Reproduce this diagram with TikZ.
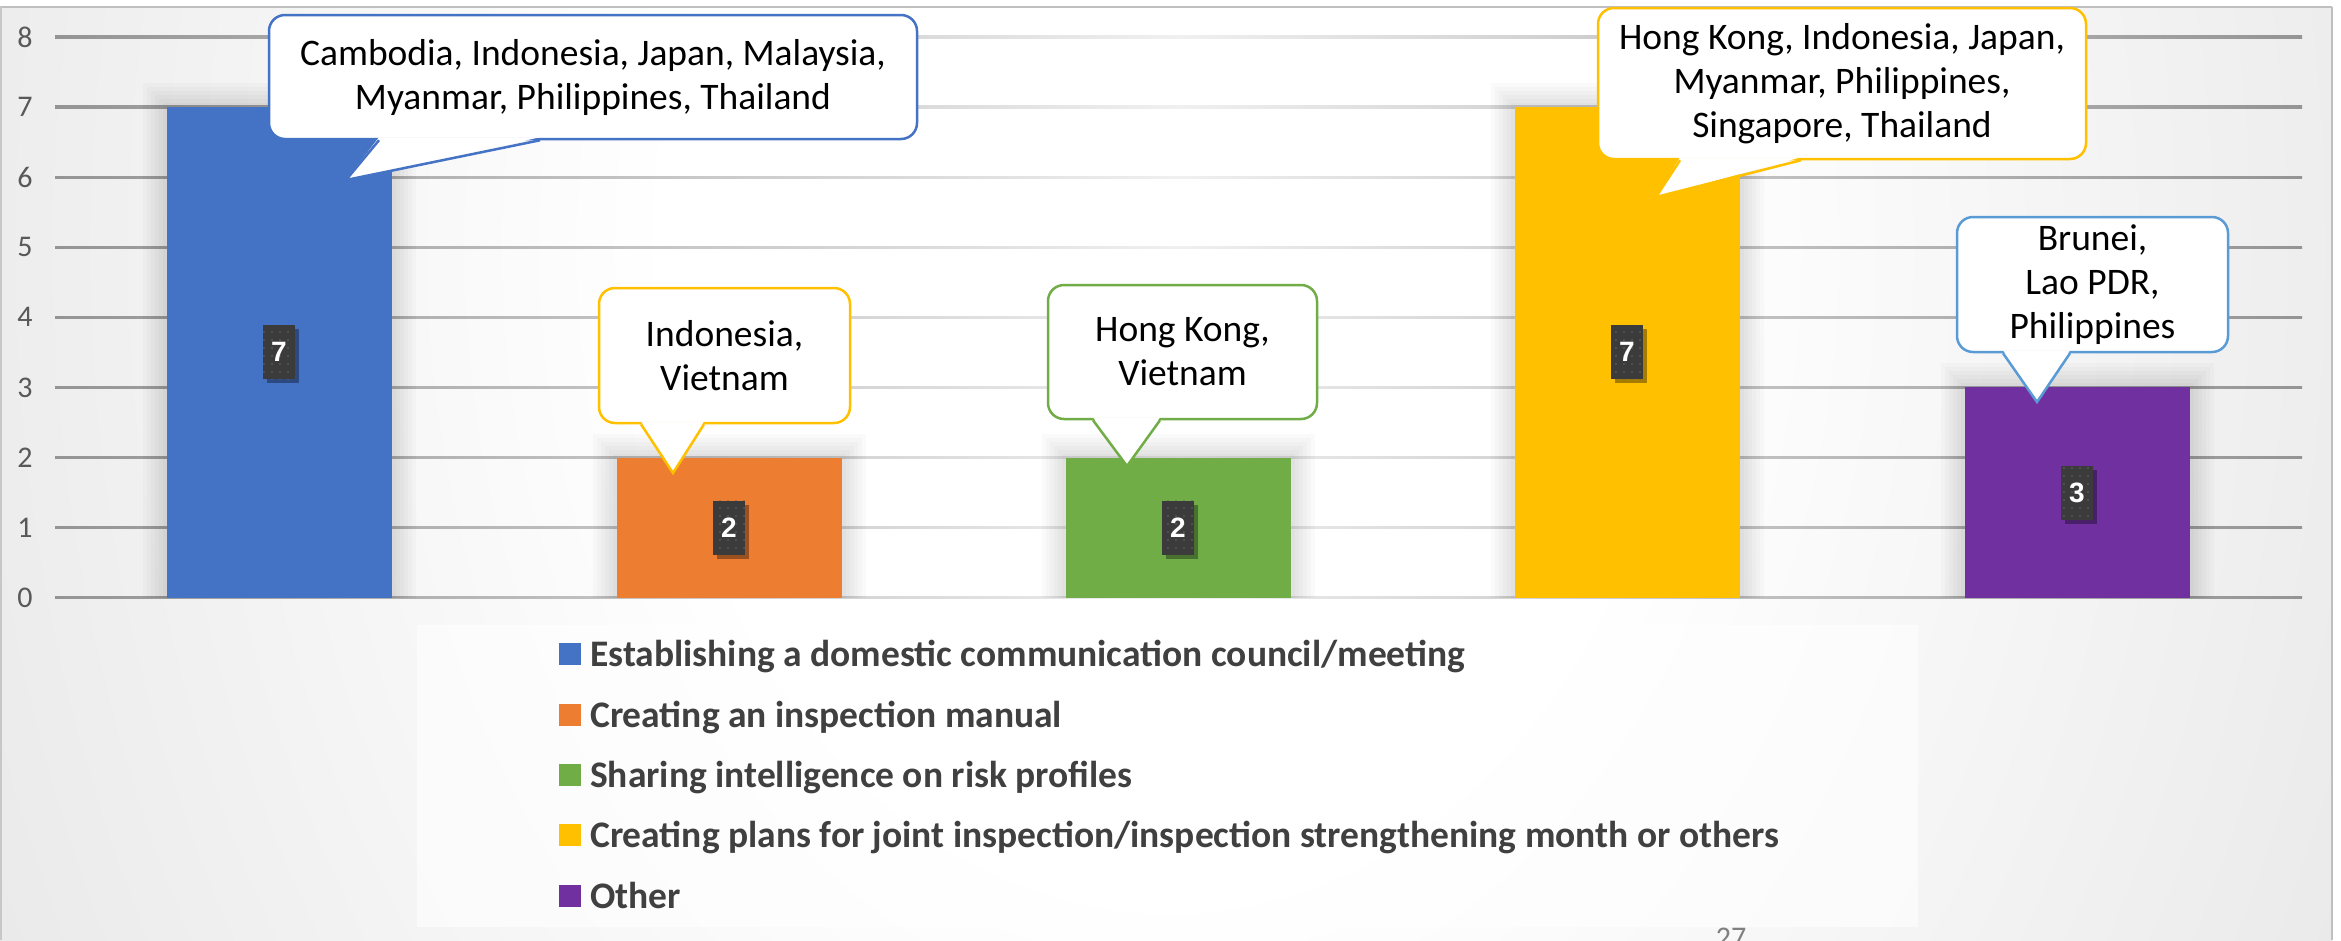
\documentclass[tikz,border=0pt]{standalone}
\usepackage{fontspec}
\setmainfont{Carlito}
\newfontfamily\lblfamily{Liberation Sans}
\usetikzlibrary{shadows,patterns.meta,calc}
\definecolor{cblue}{HTML}{4472C4}
\definecolor{corange}{HTML}{ED7D31}
\definecolor{cgreen}{HTML}{70AD47}
\definecolor{cyellow}{HTML}{FFC000}
\definecolor{cpurple}{HTML}{7030A0}
\definecolor{clblue}{HTML}{5B9BD5}
\definecolor{lblbg}{HTML}{3B3B3B}
\definecolor{legtext}{HTML}{404040}
\definecolor{axtext}{HTML}{595959}
\pgfdeclareradialshading{bgshade}{\pgfpoint{0bp}{0bp}}{color(0bp)=(white); color(10bp)=(white); color(31bp)=(black!11); color(46bp)=(black!22); color(71bp)=(black!27)}
\begin{document}
\begin{tikzpicture}[x=1pt,y=-1pt,
  axlbl/.style={text=axtext, font=\fontsize{30}{30}\selectfont, inner sep=0pt},
  lbl/.style={fill=lblbg, text=white, font=\lblfamily\bfseries\fontsize{28}{28}\selectfont,
    minimum width=32pt, minimum height=54pt, inner sep=0pt,
    drop shadow={shadow xshift=4pt, shadow yshift=-4pt, opacity=0.35, fill=black},
    postaction={pattern={Dots[distance=8pt, radius=0.9pt]}, pattern color=black!40!lblbg!70!white}},
  callout/.style={draw=#1, line width=2.5pt, fill=white, rounded corners=16pt, align=center,
    font=\fontsize{37.5}{44}\selectfont, inner sep=0pt, text=black},
  tail/.style={draw=#1, line width=2.5pt, line join=miter},
  legtxt/.style={text=legtext, font=\bfseries\fontsize{37.5}{37.5}\selectfont, inner sep=0pt, anchor=base west},
  legsq/.style={fill=#1}
]
\useasboundingbox (0,0) rectangle (2341,940);
\fill[white] (0,0) rectangle (2341,940);
\begin{scope}
  \clip (0,7) rectangle (2332,940);
  \shade[shading=bgshade] (-80,-1350) rectangle (2420,1850);
\end{scope}
\draw[black!25, line width=1.5pt] (0,7) -- (2332,7);
\draw[black!25, line width=1.5pt] (2332,7) -- (2332,940);
\draw[black!22, line width=2pt] (1,7) -- (1,940);

% gridlines and axis labels
\foreach \k in {0,...,8}{
  \shade[left color=black!42, right color=black!42, middle color=black!6]
    (55,{597.7-70.1*\k-1.1}) rectangle (2302,{597.7-70.1*\k+1.1});
  \node[axlbl] (y\k) at (25,{597.7-70.1*\k}) {\k};
}

% bars
\foreach \cx/\v/\c/\n in {279/7/cblue/b1, 729/2/corange/b2, 1178/2/cgreen/b3, 1627/7/cyellow/b4, 2077/3/cpurple/b5}{
  \foreach \g in {24,20,16,12,8,4}{
    \fill[black, opacity=0.018] ({\cx-112.5-\g},{597.7-70.1*\v-\g}) rectangle ({\cx+112.5+\g},597.7);
  }
  \fill[\c] ({\cx-112.5},{597.7-70.1*\v}) rectangle ({\cx+112.5},597.7);
  \node[lbl] (v\n) at (\cx,{597.7-70.1*\v/2}) {\v};
}

% callouts
\node[callout=cblue, minimum width=648pt, minimum height=124pt] (c1) at (593,77)
  {Cambodia, Indonesia, Japan, Malaysia,\\Myanmar, Philippines, Thailand};
\coordinate (t1) at (346,180);
\fill[white] ($(c1.south)+(-214,-3)$) -- (t1) -- ($(c1.south)+(-53,-3)$) -- cycle;
\draw[tail=cblue] ($(c1.south)+(-214,0)$) -- (t1) -- ($(c1.south)+(-53,0)$);

\node[callout=cyellow, minimum width=251pt, minimum height=135pt] (c2) at (724.5,355.5)
  {Indonesia,\\Vietnam};
\coordinate (t2) at (673,473);
\fill[white] ($(c2.south)+(-83.5,-3)$) -- (t2) -- ($(c2.south)+(-20.5,-3)$) -- cycle;
\draw[tail=cyellow] ($(c2.south)+(-83.5,0)$) -- (t2) -- ($(c2.south)+(-20.5,0)$);

\node[callout=cgreen, minimum width=269pt, minimum height=134pt] (c3) at (1182.5,352)
  {Hong Kong,\\Vietnam};
\coordinate (t3) at (1127,466);
\fill[white] ($(c3.south)+(-89.5,-3)$) -- (t3) -- ($(c3.south)+(-22.5,-3)$) -- cycle;
\draw[tail=cgreen] ($(c3.south)+(-89.5,0)$) -- (t3) -- ($(c3.south)+(-22.5,0)$);

\node[callout=cyellow, minimum width=488pt, minimum height=151pt] (c4) at (1842,83.5)
  {Hong Kong, Indonesia, Japan,\\Myanmar, Philippines,\\Singapore, Thailand};
\coordinate (t4) at (1656,197);
\fill[white] ($(c4.south)+(-162,-3)$) -- (t4) -- ($(c4.south)+(-41,-3)$) -- cycle;
\draw[tail=cyellow] ($(c4.south)+(-162,0)$) -- (t4) -- ($(c4.south)+(-41,0)$);

\node[callout=clblue, minimum width=271pt, minimum height=135pt] (c5) at (2092.5,284.5)
  {Brunei,\\Lao PDR,\\Philippines};
\coordinate (t5) at (2037,402);
\fill[white] ($(c5.south)+(-89.5,-3)$) -- (t5) -- ($(c5.south)+(-22.5,-3)$) -- cycle;
\draw[tail=clblue] ($(c5.south)+(-89.5,0)$) -- (t5) -- ($(c5.south)+(-22.5,0)$);

% legend
\node[fill=white, fill opacity=0.6, minimum width=1501pt, minimum height=302pt, inner sep=0pt] (leg) at (1167.5,776) {};
\fill[legsq=cblue] (559,643) rectangle (581,665);
\node[legtxt] (l1) at (590,666) {Establishing a domestic communication council/meeting};
\fill[legsq=corange] (559,704) rectangle (581,726);
\node[legtxt] (l2) at (590,727) {Creating an inspection manual};
\fill[legsq=cgreen] (559,764) rectangle (581,786);
\node[legtxt] (l3) at (590,787) {Sharing intelligence on risk profiles};
\fill[legsq=cyellow] (559,824) rectangle (581,846);
\node[legtxt] (l4) at (590,847) {Creating plans for joint inspection/inspection strengthening month or others};
\fill[legsq=cpurple] (559,885) rectangle (581,907);
\node[legtxt] (l5) at (590,908) {Other};

% page number
\node[text=black!50, font=\fontsize{30}{30}\selectfont, anchor=north, inner sep=0pt] (pg) at (1731,928) {27};
\end{tikzpicture}
\end{document}
